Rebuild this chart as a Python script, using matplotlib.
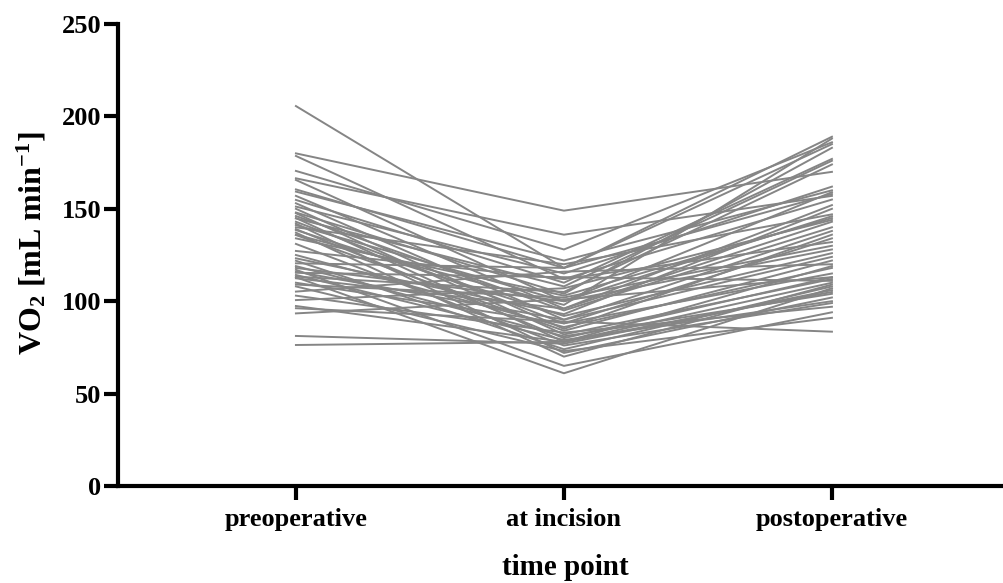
import matplotlib
matplotlib.use('Agg')
import matplotlib.pyplot as plt

plt.rcParams['font.family'] = 'Liberation Serif'
plt.rcParams['font.weight'] = 'bold'
plt.rcParams['mathtext.fontset'] = 'custom'
plt.rcParams['mathtext.rm'] = 'Liberation Serif:bold'
plt.rcParams['mathtext.bf'] = 'Liberation Serif:bold'
plt.rcParams['mathtext.it'] = 'Liberation Serif:bold'

# Les trois instants de mesure
moments = ['preoperative', 'at incision', 'postoperative']

# VO2 de chaque patient
preop = [205.6, 180, 178.6, 170.5, 166.5, 165.6, 160.5, 159.3, 157, 154.8,
         153, 151.2, 150, 148, 147.6, 146.1, 145, 144.8, 143, 142,
         141.2, 140, 139, 138.5, 137.1, 136, 135.8, 134, 131, 127.2,
         125, 123.2, 121.9, 120.5, 119, 118, 117, 116, 115.4, 114.2,
         113.3, 113, 112.4, 110, 109, 108, 105.2, 103, 100.6, 97.4,
         96.2, 93.4, 81.2, 76.3]
incision = [118, 149, 112, 128, 136, 100, 118, 122, 96, 110,
            90, 115, 85, 104, 82, 95, 78, 108, 88, 72,
            100, 120, 80, 92, 70, 98, 84, 103, 76, 112,
            86, 93, 74, 118, 81, 100, 65, 90, 113, 79,
            105, 61, 96, 88, 102, 73, 116, 83, 107, 78,
            89, 101, 77, 78]
postop = [158, 170, 155, 186, 157, 146, 189, 160, 143, 177,
          124, 162, 136, 183, 112, 140, 105, 176, 134, 102,
          159, 147, 113, 126, 109, 188, 122, 145, 99, 132,
          118, 150, 108, 185, 104, 128, 94, 138, 111, 100,
          174, 107, 152, 115, 130, 91, 120, 97, 144, 110,
          83.5, 113, 106, 119]

fig = plt.figure(figsize=(10.04, 5.83), dpi=100)
ax = fig.add_axes([0.1175, 0.1664, 0.8825, 0.7924])

x = range(len(moments))
for a, b, c in zip(preop, incision, postop):
    ax.plot(x, [a, b, c], color='#858585', linewidth=1.4)

ax.set_xlim(-0.664, 2.642)
ax.set_ylim(0, 250)
ax.set_yticks([0, 50, 100, 150, 200, 250])
ax.set_xticks(list(x))
ax.set_xticklabels(moments)

for s in ['top', 'right']:
    ax.spines[s].set_visible(False)
for s in ['left', 'bottom']:
    ax.spines[s].set_linewidth(3)
ax.tick_params(axis='both', width=3, length=10, labelsize=19, direction='out')
ax.tick_params(axis='y', pad=2)
ax.tick_params(axis='x', pad=6)

fig.text(0.032, 0.582, r'VO$_2$ [mL min$^{-1}$]', fontsize=23, fontweight='bold',
         rotation=90, ha='center', va='center')
fig.text(0.563, 0.026, 'time point', fontsize=21, fontweight='bold',
         ha='center', va='center')

fig.savefig('out.png', dpi=100)
